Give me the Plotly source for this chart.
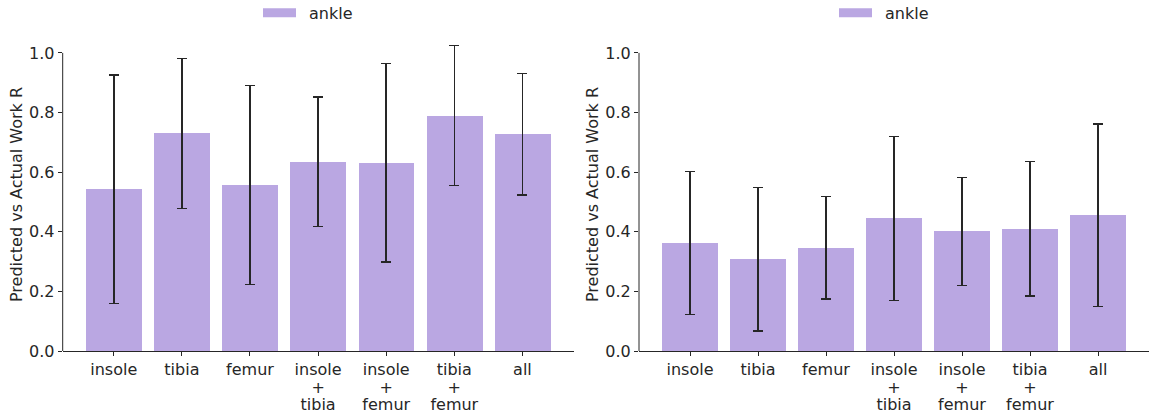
import plotly.graph_objects as go

categories = ["insole", "tibia", "femur", "insole<br>+<br>tibia", "insole<br>+<br>femur", "tibia<br>+<br>femur", "all"]
series_name = "ankle"

left_values = [0.543, 0.730, 0.557, 0.635, 0.632, 0.790, 0.727]
left_errors = [0.383, 0.252, 0.334, 0.217, 0.333, 0.235, 0.204]

right_values = [0.363, 0.308, 0.346, 0.445, 0.401, 0.410, 0.455]
right_errors = [0.240, 0.241, 0.172, 0.275, 0.181, 0.226, 0.306]

y_tick_vals = [0.0, 0.2, 0.4, 0.6, 0.8, 1.0]

BAR = "#baa7e2"
DARK = "#262626"
FONT = "DejaVu Sans"
FS = 16

W, H = 1150, 413
Y_TOP = 1.05          # axis range top (room for caps above 1.0)
PX_PER_UNIT = 298.6
MB = 61.7
MT = H - MB - Y_TOP * PX_PER_UNIT
plot_h = H - MT - MB

x_idx = list(range(len(categories)))

fig = go.Figure()

panels = [
    (left_values, left_errors, "x", "y", [62.7 / W, 573.5 / W]),
    (right_values, right_errors, "x2", "y2", [639 / W, 1149 / W]),
]

for vals, errs, xa, ya, dom in panels:
    fig.add_trace(go.Bar(
        x=x_idx, y=vals, width=0.82,
        marker=dict(color=BAR, line=dict(width=0)),
        error_y=dict(type="data", array=errs, visible=True, color=DARK, thickness=1.5, width=5),
        xaxis=xa, yaxis=ya, name=series_name, showlegend=False,
    ))
    # left spine from 0 to 1.0 only
    fig.add_shape(type="line", xref=f"{xa} domain", yref=ya, x0=0, x1=0, y0=0, y1=1.0,
                  line=dict(color=DARK, width=1))

axis_common_x = dict(
    tickmode="array", tickvals=x_idx, ticktext=categories, range=[-0.75, 6.75],
    showgrid=False, zeroline=False, showline=True, linecolor=DARK, linewidth=1,
    ticks="outside", ticklen=4, tickwidth=1, tickcolor=DARK,
    tickfont=dict(family=FONT, size=FS, color=DARK), automargin=False,
)
axis_common_y = dict(
    range=[0, Y_TOP], tickvals=y_tick_vals, tickformat=".1f",
    showgrid=False, zeroline=False, showline=False,
    ticks="outside", ticklen=4, tickwidth=1, tickcolor=DARK,
    tickfont=dict(family=FONT, size=FS, color=DARK), automargin=False,
    title=dict(text="Predicted vs Actual Work R", font=dict(family=FONT, size=FS, color=DARK), standoff=2),
)

fig.update_layout(
    width=W, height=H,
    margin=dict(l=0, r=0, t=MT, b=MB),
    paper_bgcolor="white", plot_bgcolor="white",
    bargap=0,
    xaxis=dict(domain=panels[0][4], anchor="y", **axis_common_x),
    yaxis=dict(domain=[0, 1], anchor="x", **axis_common_y),
    xaxis2=dict(domain=panels[1][4], anchor="y2", **axis_common_x),
    yaxis2=dict(domain=[0, 1], anchor="x2", **axis_common_y),
    showlegend=False,
)

# Legend (patch + label) above each panel
def py(px):
    return (H - MB - px) / plot_h

for patch_x0, patch_x1, text_x in [(263, 296, 307), (839, 872, 883)]:
    fig.add_shape(type="rect", xref="paper", yref="paper",
                  x0=patch_x0 / W, x1=patch_x1 / W, y0=py(17), y1=py(8),
                  fillcolor=BAR, line=dict(width=0))
    fig.add_annotation(xref="paper", yref="paper", x=text_x / W, y=py(13),
                       xanchor="left", yanchor="middle", showarrow=False,
                       text=series_name, font=dict(family=FONT, size=FS, color=DARK))

# tighten line spacing of multi-line category labels
post = """
var gd = document.getElementById('{plot_id}');
function tighten(){
  gd.querySelectorAll('.xtick text, .x2tick text').forEach(function(t){
    t.querySelectorAll('tspan.line').forEach(function(l, i){ l.setAttribute('dy', (i*1.1) + 'em'); });
  });
}
tighten();
gd.on('plotly_afterplot', tighten);
"""

fig.write_html("out.html", post_script=post)
